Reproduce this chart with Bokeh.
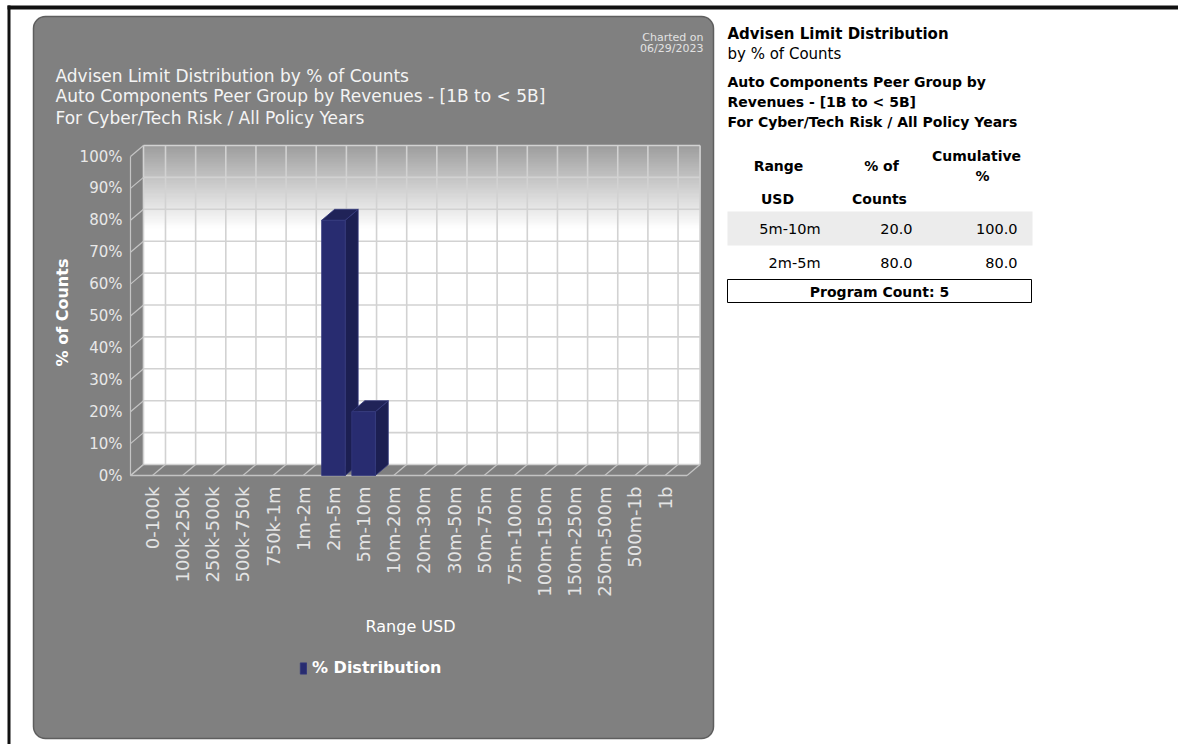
import numpy as np
from bokeh.plotting import figure
from bokeh.models import (Range1d, LinearAxis, FixedTicker, PrintfTickFormatter,
                          Legend, LegendItem, ColumnDataSource, Quad)
from bokeh.core.properties import value
from bokeh.embed import file_html
from bokeh.resources import INLINE

# ---------------- data ----------------
categories = ["0-100k", "100k-250k", "250k-500k", "500k-750k", "750k-1m", "1m-2m",
              "2m-5m", "5m-10m", "10m-20m", "20m-30m", "30m-50m", "50m-75m",
              "75m-100m", "100m-150m", "150m-250m", "250m-500m", "500m-1b", "1b"]
pct_counts = [0, 0, 0, 0, 0, 0, 80, 20, 0, 0, 0, 0, 0, 0, 0, 0, 0, 0]
y_ticks = [0, 10, 20, 30, 40, 50, 60, 70, 80, 90, 100]
series_name = "% Distribution"
x_title = "Range USD"
y_title = "% of Counts"
title_lines = ["Advisen Limit Distribution by % of Counts",
               "Auto Components Peer Group by Revenues - [1B to < 5B]",
               "For Cyber/Tech Risk / All Policy Years"]
charted_on = ["Charted on", "06/29/2023"]
side_title_bold = ["Advisen Limit Distribution"]
side_title_plain = ["by % of Counts"]
side_subtitle = ["Auto Components Peer Group by", "Revenues - [1B to < 5B]",
                 "For Cyber/Tech Risk / All Policy Years"]
table_ranges = ["5m-10m", "2m-5m"]
table_pct = [20.0, 80.0]
table_cum = [100.0, 80.0]
program_count = 5

# ---------------- layout constants ----------------
W, H = 1178, 744
CAT0, CATW = 152.0, 30.15      # px of first category centre, px per category
PCT0, PCTH = 475.0, 3.19       # px of 0 %, px per percent
X_LO, X_HI = -0.73, len(categories) - 1 + 0.73
DX, DY = 13 / CATW, 11 / PCTH  # 3-D depth
BW = 0.78
FONT = value("DejaVu Sans")

p = figure(width=W, height=H, x_range=Range1d(0, W), y_range=Range1d(H, 0),
           x_axis_type=None, y_axis_type=None, toolbar_location=None,
           output_backend="svg", min_border=0, outline_line_color=None,
           background_fill_color="white", border_fill_color="white")
p.extra_x_ranges = {"cat": Range1d(-CAT0 / CATW, (W - CAT0) / CATW)}
p.extra_y_ranges = {"pct": Range1d(-(H - PCT0) / PCTH, PCT0 / PCTH)}
kw = dict(x_range_name="cat", y_range_name="pct")

# page frame lines
p.quad(left=[7], right=[10], top=[5], bottom=[H], fill_color="#111111", line_color=None)
p.quad(left=[7], right=[W], top=[5], bottom=[9], fill_color="#111111", line_color=None)

# grey rounded panel
panel_kw = dict(left=[33], right=[713], top=[16], bottom=[738],
                fill_color="#808080", line_color="#5e5e5e", line_width=1.5)
if "border_radius" in Quad.properties():
    panel_kw["border_radius"] = 12
p.quad(**panel_kw)

# back wall
p.quad(left=[X_LO + DX], right=[X_HI + DX], bottom=[DY], top=[100 + DY],
       fill_color="white", line_color=None, **kw)
GRAD_LO = 74
N = 64
img = np.zeros((N, 1), dtype=np.uint32)
view = img.view(dtype=np.uint8).reshape((N, 1, 4))
for r in range(N):
    t = (r + 0.5) / N
    g = int(round(255 - (255 - 156) * t))
    view[r, 0] = [g, g, g, 255]
p.image_rgba(image=[img], x=X_LO + DX, y=GRAD_LO + DY, dw=X_HI - X_LO,
             dh=100 - GRAD_LO, **kw)

# back wall grid
p.segment(x0=[X_LO + DX] * len(y_ticks), x1=[X_HI + DX] * len(y_ticks),
          y0=[v + DY for v in y_ticks], y1=[v + DY for v in y_ticks],
          line_color="#d2d2d2", line_width=1.6, **kw)
vx = [i + DX for i in range(len(categories))] + [X_LO + DX, X_HI + DX]
p.segment(x0=vx, x1=vx, y0=[DY] * len(vx), y1=[100 + DY] * len(vx),
          line_color="#d2d2d2", line_width=1.6, **kw)

# left wall + floor
p.segment(x0=[X_LO] * len(y_ticks), x1=[X_LO + DX] * len(y_ticks),
          y0=y_ticks, y1=[v + DY for v in y_ticks],
          line_color="#c4c4c4", line_width=1.2, **kw)
p.segment(x0=[X_LO], x1=[X_LO], y0=[0], y1=[100], line_color="#c4c4c4", line_width=1.2, **kw)
fx = list(range(len(categories))) + [X_LO, X_HI]
p.segment(x0=fx, x1=[x + DX for x in fx], y0=[0] * len(fx), y1=[DY] * len(fx),
          line_color="#c4c4c4", line_width=1.2, **kw)
p.segment(x0=[X_LO], x1=[X_HI], y0=[0], y1=[0], line_color="#c4c4c4", line_width=1.5, **kw)

# 3-D bars
xs, ys, fills = [], [], []
for i, v in enumerate(pct_counts):
    if v <= 0:
        continue
    xl, xr = i - BW / 2, i + BW / 2
    xs += [[xr, xr + DX, xr + DX, xr], [xl, xr, xr + DX, xl + DX], [xl, xr, xr, xl]]
    ys += [[0, DY, v + DY, v], [v, v, v + DY, v + DY], [0, 0, v, v]]
    fills += ["#1c1f52", "#202358", "#282c70"]
bsrc = ColumnDataSource(dict(xs=xs, ys=ys, fill=fills))
bars_r = p.patches(xs="xs", ys="ys", fill_color="fill", line_color="#34387c",
                   line_width=0.8, source=bsrc, **kw)

# axes (placed on the front plane of the 3-D box)
yax = LinearAxis(x_range_name="cat", y_range_name="pct", fixed_location=X_LO,
                 ticker=FixedTicker(ticks=y_ticks), formatter=PrintfTickFormatter(format="%d%%"),
                 axis_line_color=None, major_tick_line_color=None, minor_tick_line_color=None,
                 major_tick_in=0, major_tick_out=0, major_label_standoff=8,
                 major_label_text_color="#e8e8e8", major_label_text_font="DejaVu Sans",
                 major_label_text_font_size="15px")
p.add_layout(yax, "left")
xax = LinearAxis(x_range_name="cat", y_range_name="pct", fixed_location=0,
                 ticker=FixedTicker(ticks=list(range(len(categories)))),
                 major_label_overrides={i: c for i, c in enumerate(categories)},
                 major_label_orientation=np.pi / 2,
                 axis_line_color=None, major_tick_line_color=None, minor_tick_line_color=None,
                 major_tick_in=0, major_tick_out=0, major_label_standoff=11,
                 major_label_text_color="#e4e4e4", major_label_text_font="DejaVu Sans",
                 major_label_text_font_size="18px")
p.add_layout(xax, "below")

# axis titles
p.text(x=[62], y=[312], text=[y_title], angle=np.pi / 2, text_align="center",
       text_baseline="middle", text_color="white", text_font=FONT,
       text_font_size="16px", text_font_style="bold")
p.text(x=[410], y=[626], text=[x_title], text_align="center", text_baseline="middle",
       text_color="white", text_font=FONT, text_font_size="16px")

legend = Legend(items=[LegendItem(label=series_name, renderers=[bars_r], index=2)],
                location=(299, 67), glyph_width=8, glyph_height=14, label_standoff=5,
                padding=0, margin=0, border_line_color=None, background_fill_alpha=0,
                label_text_color="white", label_text_font="DejaVu Sans",
                label_text_font_size="16px", label_text_font_style="bold")
p.add_layout(legend)

# titles inside panel
p.text(x=[55] * 3, y=[75, 95, 117], text=title_lines, text_color="#f4f4f4",
       text_font=FONT, text_font_size="17px", text_baseline="middle")
p.text(x=[703, 703], y=[37, 48], text=charted_on, text_color="#e2e2e2", text_align="right",
       text_font=FONT, text_font_size="11px", text_baseline="middle")

# right-hand side text
RX = 727
p.text(x=[RX], y=[33], text=side_title_bold, text_font=FONT, text_font_size="15px",
       text_font_style="bold", text_baseline="middle", text_color="black")
p.text(x=[RX], y=[53], text=side_title_plain, text_font=FONT, text_font_size="15px",
       text_baseline="middle", text_color="black")
p.text(x=[RX] * 3, y=[81, 101, 121], text=side_subtitle, text_font=FONT,
       text_font_size="14px", text_font_style="bold", text_baseline="middle",
       text_color="black")

# table
p.text(x=[778, 881, 976], y=[165, 165, 155], text=["Range", "% of", "Cumulative"],
       text_align="center", text_baseline="middle", text_font=FONT, text_font_size="14px",
       text_font_style="bold", text_color="black")
p.text(x=[777, 879, 982], y=[198, 198, 175], text=["USD", "Counts", "%"],
       text_align="center", text_baseline="middle", text_font=FONT, text_font_size="14px",
       text_font_style="bold", text_color="black")
p.quad(left=[727], right=[1032], top=[211], bottom=[245], fill_color="#ececec", line_color=None)
row_y = [228 + 34 * i for i in range(len(table_ranges))]
p.text(x=[820] * len(row_y), y=row_y, text=table_ranges, text_align="right",
       text_baseline="middle", text_font=FONT, text_font_size="14.5px", text_color="black")
p.text(x=[912] * len(row_y), y=row_y, text=[f"{v:.1f}" for v in table_pct], text_align="right",
       text_baseline="middle", text_font=FONT, text_font_size="14.5px", text_color="black")
p.text(x=[1017] * len(row_y), y=row_y, text=[f"{v:.1f}" for v in table_cum], text_align="right",
       text_baseline="middle", text_font=FONT, text_font_size="14.5px", text_color="black")
p.quad(left=[727], right=[1031], top=[279], bottom=[302], fill_color="white",
       line_color="black", line_width=1)
p.text(x=[879], y=[291], text=[f"Program Count: {program_count}"], text_align="center",
       text_baseline="middle", text_font=FONT, text_font_size="14px", text_font_style="bold",
       text_color="black")

open("out.html", "w").write(file_html(p, INLINE))
